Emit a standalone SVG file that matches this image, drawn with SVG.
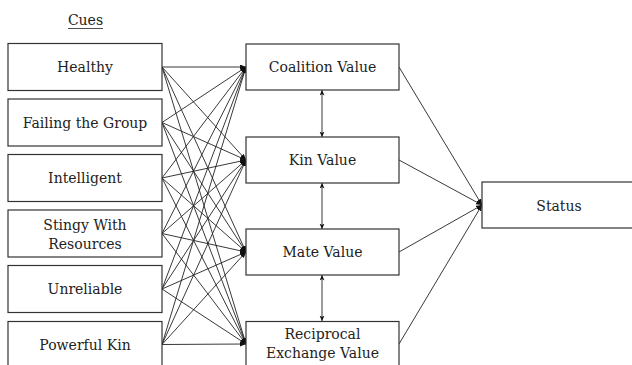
<svg xmlns="http://www.w3.org/2000/svg" width="632" height="365" viewBox="0 0 632 365">
<style>
.box{fill:#fff;stroke:#333;stroke-width:1.2}
.t{font-family:'DejaVu Serif',serif;font-size:14px;fill:#222;text-anchor:middle}
.c line{stroke:#222;stroke-width:0.9;fill:none}
.a{marker-end:url(#ah)}
.d{marker-end:url(#dh);marker-start:url(#dh)}
</style>
<defs>
<marker id="ah" markerUnits="userSpaceOnUse" markerWidth="7" markerHeight="6" refX="6" refY="2.5" orient="auto">
<path d="M0,0 L6,2.5 L0,5 z" fill="#111"/>
</marker>
<marker id="dh" markerUnits="userSpaceOnUse" markerWidth="7" markerHeight="6" refX="5.5" refY="2.5" orient="auto-start-reverse">
<path d="M0,0 L5.5,2.5 L0,5 L1.5,2.5 z" fill="#111"/>
</marker>
</defs>
<rect width="632" height="365" fill="#fff"/>
<g id="title">
<text class="t" x="85.5" y="25">Cues</text>
<line x1="68" y1="28.5" x2="103" y2="28.5" stroke="#222" stroke-width="0.8"/>
</g>
<g id="connectors" class="c">
<line class="a" x1="162" y1="67" x2="246" y2="67"/>
<line class="a" x1="162" y1="67" x2="246" y2="160"/>
<line class="a" x1="162" y1="67" x2="246" y2="252"/>
<line class="a" x1="162" y1="67" x2="246" y2="344"/>
<line class="a" x1="162" y1="122.5" x2="246" y2="67"/>
<line class="a" x1="162" y1="122.5" x2="246" y2="160"/>
<line class="a" x1="162" y1="122.5" x2="246" y2="252"/>
<line class="a" x1="162" y1="122.5" x2="246" y2="344"/>
<line class="a" x1="162" y1="178" x2="246" y2="67"/>
<line class="a" x1="162" y1="178" x2="246" y2="160"/>
<line class="a" x1="162" y1="178" x2="246" y2="252"/>
<line class="a" x1="162" y1="178" x2="246" y2="344"/>
<line class="a" x1="162" y1="233.5" x2="246" y2="67"/>
<line class="a" x1="162" y1="233.5" x2="246" y2="160"/>
<line class="a" x1="162" y1="233.5" x2="246" y2="252"/>
<line class="a" x1="162" y1="233.5" x2="246" y2="344"/>
<line class="a" x1="162" y1="289" x2="246" y2="67"/>
<line class="a" x1="162" y1="289" x2="246" y2="160"/>
<line class="a" x1="162" y1="289" x2="246" y2="252"/>
<line class="a" x1="162" y1="289" x2="246" y2="344"/>
<line class="a" x1="162" y1="344.5" x2="246" y2="67"/>
<line class="a" x1="162" y1="344.5" x2="246" y2="160"/>
<line class="a" x1="162" y1="344.5" x2="246" y2="252"/>
<line class="a" x1="162" y1="344.5" x2="246" y2="344"/>
<line class="a" x1="399" y1="67" x2="482" y2="205"/>
<line class="a" x1="399" y1="160" x2="482" y2="205"/>
<line class="a" x1="399" y1="252" x2="482" y2="205"/>
<line class="a" x1="399" y1="344" x2="482" y2="205"/>
<line class="d" x1="322" y1="90" x2="322" y2="137"/>
<line class="d" x1="322" y1="183" x2="322" y2="229"/>
<line class="d" x1="322" y1="275" x2="322" y2="321"/>
</g>
<g id="cue-healthy"><rect class="box" x="8" y="43.5" width="154" height="47"/><text class="t" x="85" y="72">Healthy</text></g>
<g id="cue-failing"><rect class="box" x="8" y="99" width="154" height="47"/><text class="t" x="85" y="127.5">Failing the Group</text></g>
<g id="cue-intelligent"><rect class="box" x="8" y="154.5" width="154" height="47"/><text class="t" x="85" y="183">Intelligent</text></g>
<g id="cue-stingy"><rect class="box" x="8" y="210" width="154" height="47"/><text class="t" x="85" y="230">Stingy With</text><text class="t" x="85" y="249">Resources</text></g>
<g id="cue-unreliable"><rect class="box" x="8" y="265.5" width="154" height="47"/><text class="t" x="85" y="294">Unreliable</text></g>
<g id="cue-powerful"><rect class="box" x="8" y="321.5" width="154" height="47"/><text class="t" x="85" y="350">Powerful Kin</text></g>
<g id="coalition"><rect class="box" x="246" y="44" width="153" height="46"/><text class="t" x="322.5" y="72">Coalition Value</text></g>
<g id="kin"><rect class="box" x="246" y="137" width="153" height="46"/><text class="t" x="322.5" y="165">Kin Value</text></g>
<g id="mate"><rect class="box" x="246" y="229" width="153" height="46"/><text class="t" x="322.5" y="257">Mate Value</text></g>
<g id="reciprocal"><rect class="box" x="246" y="321.5" width="153" height="46"/><text class="t" x="322.5" y="339">Reciprocal</text><text class="t" x="322.5" y="358">Exchange Value</text></g>
<g id="status"><rect class="box" x="482" y="182" width="154" height="46"/><text class="t" x="559" y="210.5">Status</text></g>
</svg>
